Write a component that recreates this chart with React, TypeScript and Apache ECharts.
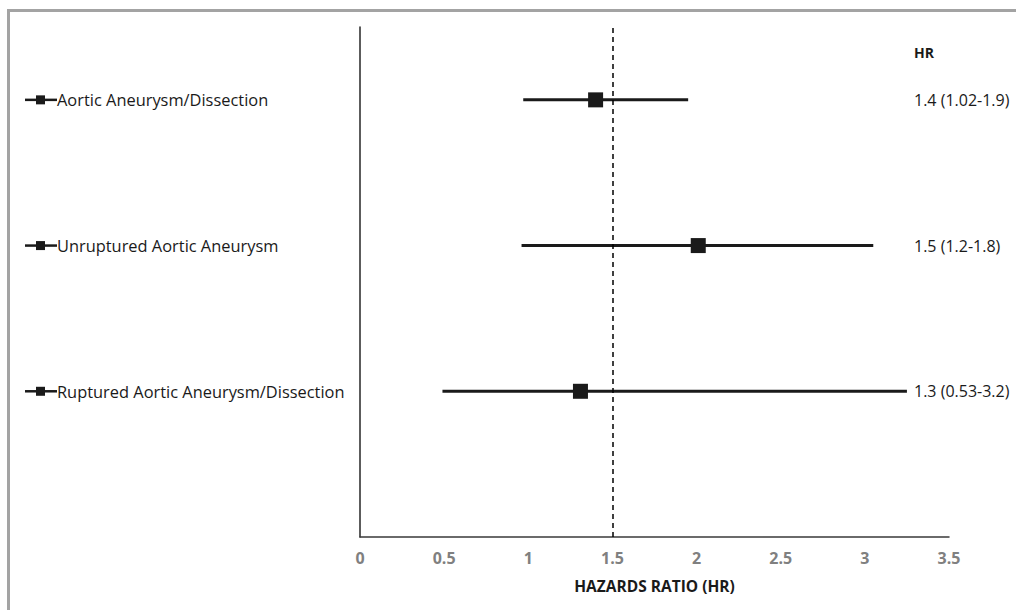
import React, { useEffect, useRef } from "react";
import * as echarts from "echarts";

const categories = [
  "Aortic Aneurysm/Dissection",
  "Unruptured Aortic Aneurysm",
  "Ruptured Aortic Aneurysm/Dissection",
];
const rowPositions = [3, 2, 1];
const hrPoint = [1.4, 2.01, 1.31];
const ciLow = [0.97, 0.96, 0.49];
const ciHigh = [1.95, 3.05, 3.25];
const hrLabels = ["1.4 (1.02-1.9)", "1.5 (1.2-1.8)", "1.3 (0.53-3.2)"];
const hrHeader = "HR";
const xAxisTitle = "HAZARDS RATIO (HR)";
const referenceLine = 1.5;
const xMin = 0;
const xMax = 3.5;
const xStep = 0.5;
const yMin = 0;
const yMax = 3.5;

const INK = "#1a1a1a";
const FONT = "Open Sans";

export default function App() {
  const ref = useRef<HTMLDivElement>(null);

  useEffect(() => {
    if (!ref.current) return;
    const chart = echarts.init(ref.current, undefined, { renderer: "svg" });

    const ciData = rowPositions.map((y, i) => [ciLow[i], ciHigh[i], y]);
    const pointData = rowPositions.map((y, i) => [hrPoint[i], y]);

    const leftLabel = (v: number) => {
      const i = rowPositions.indexOf(v);
      return i < 0 ? "" : `{ln|}{sq|}{ln2|}{t|${categories[i]}}`;
    };
    const rightLabel = (v: number) => {
      const i = rowPositions.indexOf(v);
      return i < 0 ? "" : hrLabels[i];
    };

    chart.setOption({
      animation: false,
      backgroundColor: "#ffffff",
      grid: { left: 360, right: 67, top: 27, bottom: 73, containLabel: false },
      xAxis: {
        type: "value",
        min: xMin,
        max: xMax,
        interval: xStep,
        axisLine: { show: true, lineStyle: { color: "#3a3a3a", width: 1.5 } },
        axisTick: { show: false },
        splitLine: { show: false },
        axisLabel: {
          color: "#808080",
          fontWeight: "bold",
          fontSize: 16,
          fontFamily: FONT,
          margin: 13,
        },
        name: xAxisTitle,
        nameLocation: "middle",
        nameGap: 41,
        nameTextStyle: {
          color: INK,
          fontWeight: "bold",
          fontSize: 15.5,
          fontFamily: FONT,
        },
      },
      yAxis: [
        {
          type: "value",
          min: yMin,
          max: yMax,
          interval: 1,
          position: "left",
          axisLine: { show: true, lineStyle: { color: "#262626", width: 1.5 } },
          axisTick: { show: false },
          splitLine: { show: false },
          axisLabel: {
            align: "left",
            margin: 335,
            formatter: leftLabel,
            rich: {
              ln: { width: 11, height: 2.5, backgroundColor: INK },
              sq: { width: 9, height: 9, backgroundColor: INK },
              ln2: { width: 12, height: 2.5, backgroundColor: INK },
              t: { fontFamily: FONT, fontSize: 16.4, color: INK },
            },
          },
        },
        {
          type: "value",
          min: yMin,
          max: yMax,
          interval: 1,
          position: "right",
          axisLine: { show: false },
          axisTick: { show: false },
          splitLine: { show: false },
          axisLabel: {
            align: "left",
            margin: -35,
            formatter: rightLabel,
            fontFamily: FONT,
            fontSize: 16,
            color: INK,
            padding: [0, 0, 4, 0],
          },
        },
      ],
      series: [
        {
          type: "custom",
          renderItem: (params: any, api: any) => {
            const p1 = api.coord([api.value(0), api.value(2)]);
            const p2 = api.coord([api.value(1), api.value(2)]);
            return {
              type: "line",
              shape: { x1: p1[0], y1: p1[1], x2: p2[0], y2: p2[1] },
              style: { stroke: INK, lineWidth: 3 },
            };
          },
          encode: { x: [0, 1], y: 2 },
          data: ciData,
          z: 2,
        },
        {
          type: "scatter",
          symbol: "rect",
          symbolSize: 15,
          itemStyle: { color: INK, opacity: 1 },
          data: pointData,
          z: 3,
          markLine: {
            silent: true,
            symbol: "none",
            label: { show: false },
            lineStyle: { color: "#000000", type: [5, 4], width: 1.5, opacity: 1 },
            data: [{ xAxis: referenceLine }],
          },
        },
      ],
      graphic: [
        {
          type: "text",
          left: 914,
          top: 45,
          style: {
            text: hrHeader,
            fontFamily: FONT,
            fontWeight: "bold",
            fontSize: 14,
            fill: INK,
          },
        },
        {
          type: "line",
          shape: { x1: 7, y1: 10.5, x2: 1016, y2: 10.5 },
          style: { stroke: "#a3a3a3", lineWidth: 3 },
        },
        {
          type: "line",
          shape: { x1: 8.5, y1: 9, x2: 8.5, y2: 610 },
          style: { stroke: "#a3a3a3", lineWidth: 3 },
        },
      ],
    });

    return () => chart.dispose();
  }, []);

  return (
    <div
      ref={ref}
      style={{ position: "fixed", left: 0, top: 0, width: 1016, height: 610 }}
    />
  );
}
